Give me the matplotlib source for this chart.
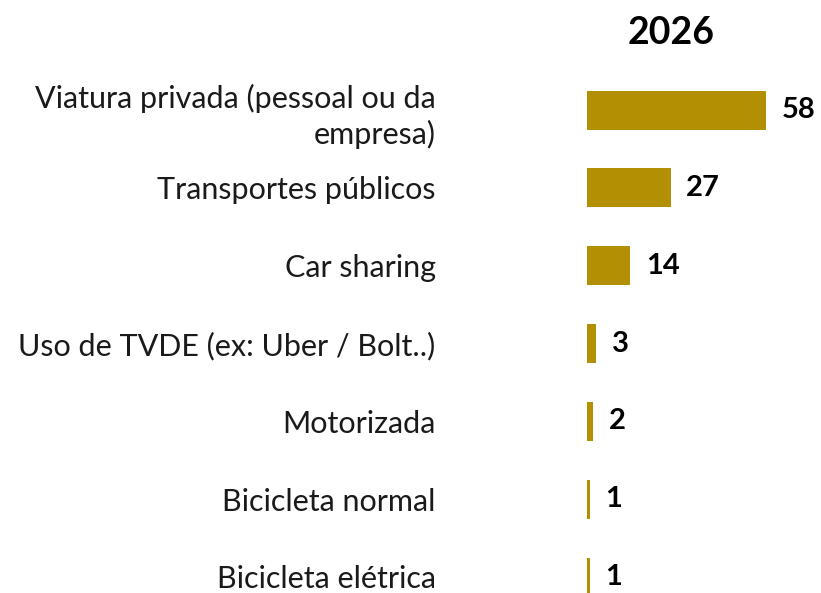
import matplotlib.pyplot as plt

categories = ["Viatura privada (pessoal ou da\nempresa)", "Transportes públicos", "Car sharing",
              "Uso de TVDE (ex: Uber / Bolt..)", "Motorizada", "Bicicleta normal", "Bicicleta elétrica"]
values = [58, 27, 14, 3, 2, 1, 1]
title = "2026"

plt.rcParams['font.family'] = ['Lato', 'DejaVu Sans']

fig = plt.figure(figsize=(8.21, 5.93), dpi=100)
ax = fig.add_axes([0.715, 0.0, 0.2826, 0.880])

ypos = list(range(len(values)))
ax.barh(ypos, values, height=0.5, color="#B38F03")
for y, v in zip(ypos, values):
    ax.text(v + 5, y, str(v), va="center", ha="left", fontsize=21, fontweight="bold", color="black")

ax.set_xlim(0, 75)
ax.set_ylim(6.206, -0.5)
ax.set_yticks(ypos)
ax.set_yticklabels(categories, fontsize=22, color="#1a1a1a", ha="right", linespacing=1.3)
ax.tick_params(axis="y", length=0, pad=109)
ax.set_xticks([])
for s in ax.spines.values():
    s.set_visible(False)

fig.text(671 / 821, 1 - 33 / 593, title, ha="center", va="center", fontsize=27, fontweight="bold")

fig.savefig("out.png", dpi=100)
